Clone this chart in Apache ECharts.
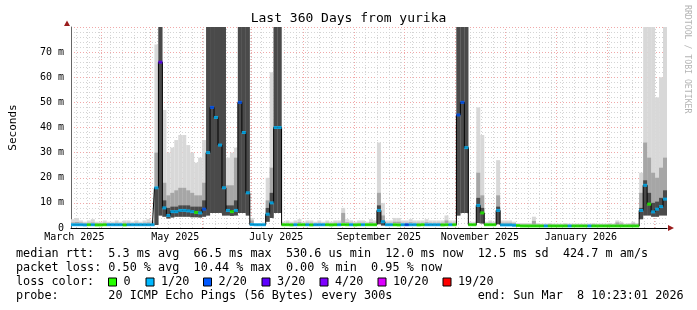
<!DOCTYPE html>
<html><head><meta charset="utf-8">
<script src="https://cdn.jsdelivr.net/npm/echarts@6/dist/echarts.min.js"></script>
<style>html,body{margin:0;padding:0;background:#fff}#c{width:697px;height:310px}</style>
</head><body><div id="c"></div>
<script>
// ---- data (150 bins of 2.4 days, 360 days ending Sun Mar 8 2026) ----
const titleText = 'Last 360 Days from yurika';
const yTickValues = [0,10,20,30,40,50,60,70];
const monthStartDays = [18,48,79,109,140,171,201,232,262,293,324,352];
const monthLabelDays = [2,63,124,186,247,308];
const monthLabels = ['March 2025','May 2025','July 2025','September 2025','November 2025','January 2026'];

// median rtt (ms)
const med = [
 1.3,1.3,1.3,1.2,1.3, 1.3,1.2,1.2,1.3,1.3, 1.3,1.3,1.3,1.2,1.3, 1.3,1.3,1.3,1.3,1.3, 1.3,
 16,66,8,5,6.5, 6.5,7,7,6.8,6.5, 6.2,6,7.5,30,48, 44,33,16,7,6.5, 7,50,38,14,1.4, 1.3,1.3,1.3,5.5,10, 40,40,
 1.3,1.3,1.2,1.3,1.3, 1.3,1.3,1.2,1.3,1.3, 1.3,1.3,1.2,1.3,1.3, 1.4,1.3,1.3,1.2,1.3, 1.3,1.3,1.3,1.3,
 7,2.5,
 1.3,1.3,1.3,1.2,1.3, 1.3,1.3,1.3,1.2,1.3, 1.3,1.3,1.3,1.3,1.2, 1.3,1.3,1.3,
 45,50,32,1.3,1.3, 9,6,1.3,1.3,1.3, 7,
 1.2,1.2,1.2,1.1,1.0, 0.8,0.8,0.8,0.8,0.8, 0.8,0.8,0.8,0.8,0.8, 0.8,0.8,0.8,0.8,0.8, 0.8,0.8,0.8,0.8,0.8, 0.8,0.8,0.8,0.8,0.8, 0.8,0.8,0.8,0.8,0.8,
 7,17,9.5,6.4,7.5,8.5,11.5
];
// packet loss class per bin (index into lossColors)
const loss = [
 1,1,1,1,0, 1,0,0,0,1, 1,1,1,0,1, 1,1,1,1,1, 1,
 1,3,1,1,1, 1,1,1,1,1, 0,1,2,1,2, 1,1,1,1,0, 1,2,1,1,1, 1,1,1,1,1, 1,1,
 0,0,0,1,0, 0,1,0,1,1, 1,0,0,0,1, 0,0,1,0,0, 1,0,0,0,
 1,1,
 1,1,0,0,1, 2,1,1,0,0, 1,1,1,1,0, 0,1,0,
 2,2,1,0,0, 1,0,0,0,0, 1,
 1,1,1,1,0, 0,0,0,0,0, 0,1,0,0,0, 0,0,1,0,0, 0,0,1,0,0, 0,0,0,0,0, 0,0,0,0,0,
 1,1,0,1,1,1,1
];
// smoke: lowest ping (ms)
const smokeLo = [
 0.9,0.9,0.9,0.9,0.9, 0.9,0.9,0.9,0.9,0.9, 0.9,0.9,0.9,0.9,0.9, 0.9,0.9,0.9,0.9,0.9, 0.9,
 1.2,5,4.5,3.8,4.2, 4.5,4.5,4.5,4.5,4.3, 4.3,4.2,4.5,5,6, 6,6,5,5,4.8, 5,6,6,5,1, 0.9,0.9,0.9,2.5,4, 6,6,
 0.9,0.9,0.9,0.9,0.9, 0.9,0.9,0.9,0.9,0.9, 0.9,0.9,0.9,0.9,0.9, 0.9,0.9,0.9,0.9,0.9, 0.9,0.9,0.9,0.9,
 1.5,1,
 0.9,0.9,0.9,0.9,0.9, 0.9,0.9,0.9,0.9,0.9, 0.9,0.9,0.9,0.9,0.9, 0.9,0.9,0.9,
 5,6,6,0.9,0.9, 2,1.8,0.9,0.9,0.9, 1.5,
 0.8,0.8,0.8,0.7,0.6, 0.5,0.5,0.5,0.5,0.5, 0.5,0.5,0.5,0.5,0.5, 0.5,0.5,0.5,0.5,0.5, 0.5,0.5,0.5,0.5,0.5, 0.5,0.5,0.5,0.5,0.5, 0.5,0.5,0.5,0.5,0.5,
 3.5,5,5,4.5,4.5,5,5
];
// smoke: top of dark core (ms)
const smokeDark = [
 1.6,1.6,1.6,1.6,1.6, 1.6,1.5,1.5,1.6,1.6, 1.6,1.6,1.6,1.6,1.6, 1.6,1.6,1.6,1.6,1.6, 1.6,
 16,100,11,8,8.5, 8.5,9,9,9,8.5, 8.5,8.5,11,100,100, 100,100,80,9,9, 11,100,100,100,1.8, 1.5,1.5,1.5,8,14, 100,100,
 1.6,1.6,1.6,1.6,1.6, 1.6,1.6,1.6,1.6,1.6, 1.6,1.6,1.6,1.6,1.6, 1.6,1.6,1.6,1.6,1.6, 1.6,1.6,1.6,1.6,
 9,3,
 1.6,1.6,1.6,1.6,1.6, 1.6,1.6,1.6,1.6,1.6, 1.6,1.6,1.6,1.6,1.6, 1.6,1.6,1.6,
 100,100,100,1.6,1.6, 12,8,1.6,1.6,1.6, 8.5,
 1.5,1.5,1.5,1.4,1.2, 1.1,1.1,1.1,1.1,1.1, 1.1,1.1,1.1,1.1,1.1, 1.1,1.1,1.1,1.1,1.1, 1.1,1.1,1.1,1.1,1.1, 1.1,1.1,1.1,1.1,1.1, 1.1,1.1,1.1,1.1,1.1,
 8,19,14,10,10.5,12,15
];
// smoke: top of middle band (ms)
const smokeMid = [
 2.2,2.4,2.2,2.0,2.1, 2.2,2.0,2.0,2.1,2.0, 2.0,2.1,2.0,2.1,2.1, 2.0,2.1,2.0,2.1,2.2, 2.1,
 30,100,18,13,14, 15,16,16,15,14, 13,13,18,100,100, 100,100,100,17,17, 28,100,100,100,3, 1.8,1.8,1.8,11,24, 100,100,
 2.0,2.1,2.0,2.1,2.3, 2.0,2.1,2.1,2.0,2.1, 2.0,2.1,2.0,2.1,2.1, 6,2.3,2.1,2.0,2.1, 2.1,2.0,2.3,2.1,
 14,5,
 2.1,2.1,2.5,2.5,2.1, 2.1,2.3,2.1,2.1,2.1, 2.3,2.1,2.1,2.1,2.1, 3,2.1,2.1,
 100,100,100,2.0,2.0, 22,13,2.0,2.1,2.0, 13,
 2.1,2.1,2.1,1.9,1.6, 1.5,1.5,1.5,2.8,1.5, 1.4,1.4,1.5,1.4,1.4, 1.4,1.5,1.4,1.4,1.4, 1.4,1.4,1.4,1.5,1.4, 1.4,1.4,1.5,1.4,2.2, 1.8,1.4,1.5,1.8,1.5,
 14,34,28,22,20,24,28
];
// smoke: highest ping (ms)
const smokeHi = [
 3.5,4,3,2.5,3, 3.5,2.5,2.5,3,2.5, 2.5,3,2.5,3,3, 2.5,3,2.5,3,3.5, 3,
 73,100,47,30,32, 35,37,37,33,30, 26,28,35,100,100, 100,100,100,28,30, 32,100,100,100,4, 2,2,2.2,20,62, 100,100,
 2.5,3,2.5,3,3.5, 2.5,3,3,2.5,3, 2.5,3,2.5,3,3, 8,3.5,3,2.5,3, 3,2.5,3.5,3,
 34,10,
 3,3,4,4,3, 3,3.5,3,3,3, 3.5,3,3,3,3, 5,3,3,
 100,100,100,2.5,2.5, 48,37,2.5,3,2.5, 27,
 3,3,3,2.5,2, 2,2,2,4.5,2, 1.8,1.8,2,1.8,1.8, 1.8,2,1.8,1.8,1.8, 1.8,1.8,1.8,2,1.8, 1.8,1.8,2,1.8,3, 2.5,1.8,2,2.5,2,
 22,100,100,100,52,60,100
];

const lossColors = ['#26ff00','#00b8ff','#0059ff','#5e00ff','#7e00ff','#dd00ff','#ff0000'];
const lossLabels = ['0','1/20','2/20','3/20','4/20','10/20','19/20'];

const legendLines = [
 'median rtt:  5.3 ms avg  66.5 ms max  530.6 us min  12.0 ms now  12.5 ms sd  424.7 m am/s',
 'packet loss: 0.50 % avg  10.44 % max  0.00 % min  0.95 % now',
 'loss color:',
 'probe:       20 ICMP Echo Pings (56 Bytes) every 300s            end: Sun Mar  8 10:23:01 2026'
];

// ---- chart ----
const F = '"DejaVu Sans Mono", "Liberation Mono", monospace';
const binNames = med.map((_, i) => String(i));
const G = {left: 67, right: 30, top: 27, bottom: 82};

function band(name, top, color) {
  return [
    {type:'bar', name:name+'b', stack:name, xAxisIndex:0, yAxisIndex:0, data: smokeLo.slice(),
     itemStyle:{color:'rgba(0,0,0,0)'}, barWidth:'100%', barGap:'-100%', silent:true, z:2},
    {type:'bar', name:name, stack:name, xAxisIndex:0, yAxisIndex:0, data: top.map((v,i)=>+(v - smokeLo[i]).toFixed(2)),
     itemStyle:{color}, barWidth:'100%', barGap:'-100%', silent:true, z:2}
  ];
}

const weekLines = [];
for (let d = 3; d < 360; d += 7) weekLines.push({xAxis: d});

const chart = echarts.init(document.getElementById('c'), null, {renderer:'canvas'});
chart.setOption({
  animation: false,
  backgroundColor: '#fff',
  title: {text: titleText, left: 'center', top: 7,
          textStyle: {fontFamily: F, fontSize: 13, fontWeight: 'normal', color: '#000'}},
  grid: G,
  xAxis: [
    {type:'category', data: binNames, show:false, position:'bottom', boundaryGap:true},
    {type:'value', min:0, max:360, position:'bottom',
     axisLine:{show:true, onZero:false, lineStyle:{color:'#000', width:1}},
     axisTick:{show:false}, splitLine:{show:false},
     axisLabel:{customValues: monthLabelDays, showMinLabel:true, showMaxLabel:true,
       formatter: v => { const k = monthLabelDays.indexOf(v); return k >= 0 ? monthLabels[k] : ''; },
       fontFamily: F, fontSize: 10, color:'#000', margin: 4}}
  ],
  yAxis: {type:'value', min:0, max:80, interval:10,
    axisLine:{show:true, lineStyle:{color:'#666'}}, axisTick:{show:false},
    axisLabel:{formatter: v => v === 0 ? '0' : v + ' m', fontFamily: F, fontSize: 10, color:'#000', margin: 7,
               showMaxLabel:false},
    splitLine:{show:true, lineStyle:{color:'#f0a8a8', type:[1,2], width:1}},
    minorTick:{show:false, splitNumber:5},
    minorSplitLine:{show:true, lineStyle:{color:'#d4d4d4', type:[1,2], width:1}},
    name:'Seconds', nameLocation:'middle', nameGap:52, nameRotate:90,
    nameTextStyle:{fontFamily: F, fontSize: 11, color:'#000'}},
  series: [
    {type:'line', xAxisIndex:1, yAxisIndex:0, data:[], symbol:'none', silent:true, z:0, zlevel:0,
     markLine:{silent:true, symbol:'none', z:0, label:{show:false}, animation:false,
       lineStyle:{color:'#d4d4d4', type:[1,2], width:1}, data: weekLines}},
    {type:'line', xAxisIndex:1, yAxisIndex:0, data:[], symbol:'none', silent:true, z:0, zlevel:0,
     markLine:{silent:true, symbol:'none', z:0, label:{show:false}, animation:false,
       lineStyle:{color:'#f0a8a8', type:[1,2], width:1}, data: monthStartDays.map(d => ({xAxis: d}))}},
    ...band('light', smokeHi, '#d8d8d8'),
    ...band('mid', smokeMid, '#a6a6a6'),
    ...band('dark', smokeDark, '#4a4a4a'),
    {type:'line', xAxisIndex:0, yAxisIndex:0, data: med, step:'middle', symbol:'none',
     lineStyle:{color:'#000', width:1}, silent:true, z:4},
    {type:'scatter', xAxisIndex:0, yAxisIndex:0, data: med, symbol:'rect', symbolSize:[4,3],
     itemStyle:{color: p => lossColors[loss[p.dataIndex]]}, silent:true, z:5}
  ],
  graphic: [
    {type:'polygon', shape:{points:[[64,26],[70,26],[67,20.5]]}, style:{fill:'#9a1c1c'}, z:10},
    {type:'polygon', shape:{points:[[668,225],[668,231],[674,228]]}, style:{fill:'#9a1c1c'}, z:10},
    {type:'text', x:687, y:5, rotation:-Math.PI/2,
     style:{text:'RRDTOOL / TOBI OETIKER', fontFamily:F, fontSize:8.2, fill:'#b4b4b4', align:'left', verticalAlign:'middle'}},
    ...legendLines.map((t, k) => ({type:'text', x:16, y:254 + k*14,
      style:{text:t, fontFamily:F, fontSize:11.8, fill:'#000', align:'left', verticalAlign:'middle'}})),
    ...lossLabels.map((t, k) => {
      const xs = [108.5,146,203.5,262,320,378,443];
      return {type:'group', children:[
        {type:'rect', shape:{x:xs[k], y:278, width:8, height:8}, style:{fill:lossColors[k], stroke:'#000', lineWidth:1}},
        {type:'text', x:xs[k]+15, y:282, style:{text:t, fontFamily:F, fontSize:11.8, fill:'#000', align:'left', verticalAlign:'middle'}}
      ]};
    })
  ]
});
</script></body></html>
